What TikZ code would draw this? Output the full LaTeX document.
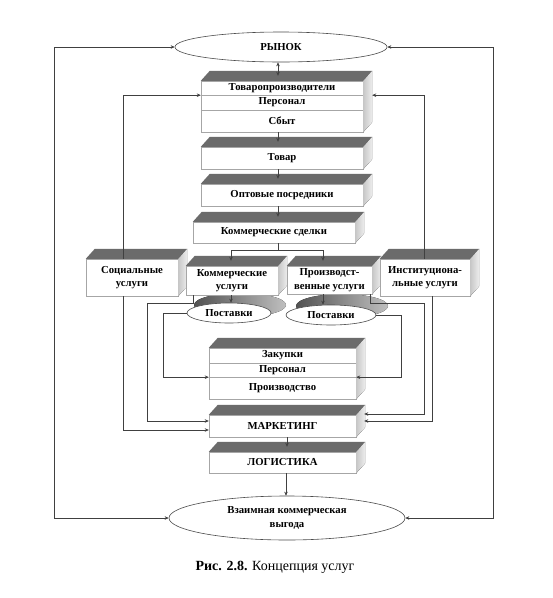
\documentclass[tikz,border=0pt]{standalone}
\usepackage{fontspec}
\setmainfont{Liberation Serif}
\usetikzlibrary{shapes.geometric,arrows.meta,calc}
\newcommand\boxfaces[2]{%
  \fill[topface] (#1.north west) -- ([shift={(9,-10)}]#1.north west) -- ([shift={(9,-10)}]#1.north east) -- (#1.north east) -- cycle;
  \fill[sideface] (#1.north east) -- ([shift={(9,-10)}]#1.north east) -- ([shift={(9,-10)}]#2.south east) -- (#2.south east) -- cycle;
}
\begin{document}
\begin{tikzpicture}[x=1pt,y=-1pt,
  front/.style={draw=black!35,line width=0.4pt,fill=white,inner sep=0pt,
    font=\bfseries\fontsize{10.7}{13.5}\selectfont,align=center},
  oval/.style={ellipse,draw=black!70,line width=0.6pt,fill=white,inner sep=0pt,
    font=\bfseries\fontsize{10.7}{14}\selectfont,align=center},
  conn/.style={draw=black!75,line width=0.6pt},
  arr/.style={conn,-{Stealth[length=4pt,width=3.5pt]}},
  darr/.style={conn,{Stealth[length=4pt,width=3.5pt]}-{Stealth[length=4pt,width=3.5pt]}},
  topface/.style={fill=black!58},
  sideface/.style={left color=black!22,right color=black!7},
  swoosh/.style={left color=black!68,right color=black!25},
]
\useasboundingbox[fill=white] (0,0) rectangle (553,598);

% swooshes under the service boxes
\fill[swoosh] (240,305) ellipse [x radius=46pt, y radius=12pt];
\fill[swoosh] (342,306) ellipse [x radius=46pt, y radius=12pt];

% top column
\node[front,minimum width=162pt,minimum height=14pt] (r1a) at (282,88) {Товаропроизводители};
\node[front,minimum width=162pt,minimum height=15pt] (r1b) at (282,102.5) {Персонал};
\node[front,minimum width=162pt,minimum height=22pt] (r1c) at (282,121) {Сбыт};
\boxfaces{r1a}{r1c}
\node[front,minimum width=162pt,minimum height=22pt] (b2) at (282,158) {Товар};
\boxfaces{b2}{b2}
\node[front,minimum width=162pt,minimum height=22pt] (b3) at (282,195) {Оптовые посредники};
\boxfaces{b3}{b3}
\node[front,minimum width=162pt,minimum height=21pt] (b4) at (274,232.5) {Коммерческие сделки};
\boxfaces{b4}{b4}

% service row
\node[front,minimum width=92pt,minimum height=37pt] (soc) at (132,277.5) {Социальные\\услуги};
\boxfaces{soc}{soc}
\node[front,minimum width=92pt,minimum height=29pt] (kom) at (232,280.5) {Коммерческие\\услуги};
\boxfaces{kom}{kom}
\node[front,minimum width=85pt,minimum height=28pt] (proi) at (329.5,280) {Производст-\\венные услуги};
\boxfaces{proi}{proi}
\node[front,minimum width=90pt,minimum height=37pt] (inst) at (425,277.5) {Институциона-\\льные услуги};
\boxfaces{inst}{inst}

% lower column
\node[front,minimum width=147pt,minimum height=15pt] (z1) at (282.5,355.5) {Закупки};
\node[front,minimum width=147pt,minimum height=14pt] (z2) at (282.5,370) {Персонал};
\node[front,minimum width=147pt,minimum height=22pt] (z3) at (282.5,388) {Производство};
\boxfaces{z1}{z3}
\node[front,minimum width=147pt,minimum height=22pt] (mk) at (282.5,426) {МАРКЕТИНГ};
\boxfaces{mk}{mk}
\node[front,minimum width=147pt,minimum height=21pt] (lg) at (282.5,462.5) {ЛОГИСТИКА};
\boxfaces{lg}{lg}

% ovals
\node[oval,minimum width=84pt,minimum height=20pt] (p1) at (229,313) {Поставки};
\node[oval,minimum width=90pt,minimum height=20pt] (p2) at (331,315) {Поставки};
\node[oval,minimum width=212pt,minimum height=30pt] (rynok) at (281,47) {РЫНОК};
\node[oval,minimum width=236pt,minimum height=44pt] (vy) at (287,518) {Взаимная коммерческая\\выгода};

% caption
\node[font=\fontsize{14}{16}\selectfont] (cap) at (275,567) {\textbf{Рис. 2.8.} Концепция услуг};

% main vertical flow
\draw[darr] ([shift={(-3,0)}]rynok.south) -- ([shift={(-4,-5)}]r1a.north);
\draw[arr] ([shift={(-4,0)}]r1c.south) -- ([shift={(-4,-5)}]b2.north);
\draw[arr] ([shift={(-4,0)}]b2.south) -- ([shift={(-4,-5)}]b3.north);
\draw[arr] ([shift={(-4,0)}]b3.south) -- ([shift={(4,-5)}]b4.north);
\coordinate (sp) at ([shift={(4,7)}]b4.south);
\draw[conn] ([shift={(4,0)}]b4.south) -- (sp);
\draw[arr] (sp) -| ([shift={(-1,-5)}]kom.north);
\draw[arr] (sp) -| ([shift={(-6.5,-5)}]proi.north);
\draw[arr] ([shift={(-1,0)}]kom.south) -- ([shift={(2,0)}]p1.north);
\draw[arr] ([shift={(-6.5,0)}]proi.south) -- ([shift={(-8,0)}]p2.north);

% feedback to producers
\draw[arr] ([shift={(-9,0)}]soc.north) |- (r1a.south west);
\draw[arr] ([shift={(-1,0)}]inst.north) |- ([shift={(9,0)}]r1a.south east);

% outer loop
\coordinate (cl) at (54,0);
\coordinate (cr) at (493,0);
\draw[darr] (rynok.west) -- (rynok.west -| cl) -- (vy.west -| cl) -- (vy.west);
\draw[darr] (rynok.east) -- (rynok.east -| cr) -- (vy.east -| cr) -- (vy.east);

% lower left connectors
\draw[arr] ([shift={(-9,0)}]soc.south) |- ([shift={(0,4)}]mk.west);
\draw[arr] ([shift={(7,0)}]kom.south west) -- ++(0,8) -- ++(-46,0) |- ([shift={(0,-5)}]mk.west);
\draw[arr] (p1.west) -- ++(-23,0) |- (z2.south west);

% lower right connectors
\draw[arr] (p2.east) -- ++(25,0) |- (z2.south east);
\draw[arr] ([shift={(-2,0)}]proi.south east) -- ++(0,9) -- ++(54,0) |- ([shift={(8,-12)}]mk.east);
\draw[arr] ([shift={(7,0)}]inst.south) |- ([shift={(8,-5)}]mk.east);

% bottom flow
\draw[arr] ([shift={(4.5,0)}]mk.south) -- ([shift={(4.5,-5)}]lg.north);
\draw[arr] ([shift={(3.5,0)}]lg.south) -- ([shift={(-1,0)}]vy.north);
\end{tikzpicture}
\end{document}
